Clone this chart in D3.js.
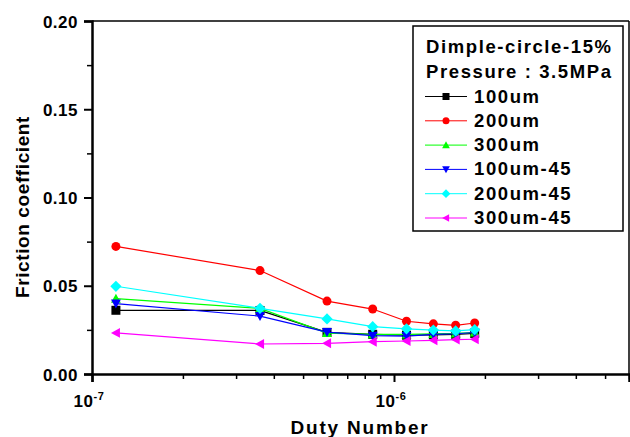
<!DOCTYPE html>
<html>
<head>
<meta charset="utf-8">
<script src="https://cdn.jsdelivr.net/npm/d3@7"></script>
<style>
  body { margin: 0; background: #fff; overflow: hidden; }
  text { font-family: "Liberation Sans", Arial, sans-serif; font-weight: bold; fill: #000; }
</style>
</head>
<body>
<svg width="630" height="437"></svg>
<script>
// duty numbers (x) shared by every series
const duty = [1.2e-7, 3.6e-7, 6.0e-7, 8.5e-7, 1.1e-6, 1.35e-6, 1.6e-6, 1.85e-6];

const f100   = [0.0361, 0.0360, 0.0236, 0.0225, 0.0220, 0.0222, 0.0225, 0.0230];
const f200   = [0.0723, 0.0586, 0.0413, 0.0368, 0.0299, 0.0284, 0.0276, 0.0289];
const f300   = [0.0427, 0.0372, 0.0232, 0.0225, 0.0224, 0.0227, 0.0230, 0.0235];
const f100_45 = [0.0399, 0.0328, 0.0237, 0.0217, 0.0215, 0.0225, 0.0228, 0.0235];
const f200_45 = [0.0497, 0.0372, 0.0312, 0.0268, 0.0256, 0.0249, 0.0244, 0.0251];
const f300_45 = [0.0233, 0.0170, 0.0174, 0.0183, 0.0187, 0.0191, 0.0195, 0.0197];

const seriesNames = ["100um", "200um", "300um", "100um-45", "200um-45", "300um-45"];
const seriesValues = [f100, f200, f300, f100_45, f200_45, f300_45];
const seriesColors = ["#000000", "#ff0000", "#00ff00", "#0000ff", "#00ffff", "#ff00ff"];
const seriesShapes = ["square", "circle", "up", "down", "diamond", "left"];

const yTicks = [0, 0.05, 0.10, 0.15, 0.20];
const legendTitle = ["Dimple-circle-15%", "Pressure : 3.5MPa"];

const svg = d3.select("svg");
const pLeft = 92, pRight = 629, pTop = 21, pBottom = 374;

const x = d3.scaleLog().domain([1e-7, 6e-6]).range([pLeft, pRight]);
const y = d3.scaleLinear().domain([0, 0.2]).range([pBottom, pTop]);

// marker outline around 0,0
function marker(type, r) {
  switch (type) {
    case "square": return `M${-r},${-r}H${r}V${r}H${-r}Z`;
    case "circle": return `M${r},0A${r},${r} 0 1,1 ${-r},0A${r},${r} 0 1,1 ${r},0Z`;
    case "up": return `M0,${-r * 1.1}L${r * 1.1},${r * 0.9}L${-r * 1.1},${r * 0.9}Z`;
    case "down": return `M0,${r * 1.1}L${r * 1.1},${-r * 0.9}L${-r * 1.1},${-r * 0.9}Z`;
    case "left": return `M${-r * 1.1},0L${r * 0.9},${-r * 1.1}L${r * 0.9},${r * 1.1}Z`;
    case "diamond": return `M0,${-r * 1.25}L${r * 1.25},0L0,${r * 1.25}L${-r * 1.25},0Z`;
  }
}

// frame (top and right)
svg.append("line").attr("x1", pLeft).attr("x2", pRight).attr("y1", pTop).attr("y2", pTop)
  .attr("stroke", "#000").attr("stroke-width", 1.5);
svg.append("line").attr("x1", pRight).attr("x2", pRight).attr("y1", pTop).attr("y2", pBottom)
  .attr("stroke", "#000").attr("stroke-width", 1.5);

// x axis: major and minor ticks
const xMajor = [1e-7, 1e-6];
const xMinor = [];
[1e-7, 1e-6].forEach(d => { for (let k = 2; k <= 9; k++) if (d * k <= 6e-6) xMinor.push(d * k); });

const gx = svg.append("g").attr("transform", `translate(0,${pBottom})`);
gx.call(d3.axisBottom(x).tickValues(xMinor).tickSize(5).tickFormat(""));
gx.selectAll(".tick line").attr("stroke-width", 1.5);
gx.select(".domain").remove();
const gxMaj = svg.append("g").attr("transform", `translate(0,${pBottom})`)
  .call(d3.axisBottom(x).tickValues(xMajor).tickSize(8).tickFormat(""));
gxMaj.selectAll(".tick line").attr("stroke-width", 2);
gxMaj.select(".domain").attr("stroke-width", 2.5);

const xLab = svg.append("g").selectAll("text").data(xMajor).join("text")
  .attr("x", d => x(d) - 3)
  .attr("y", 407)
  .attr("text-anchor", "middle")
  .style("font-size", "17px").style("letter-spacing", "0.6px");
xLab.append("tspan").text("10");
xLab.append("tspan").attr("dy", -7).style("font-size", "11px").text(d => Math.round(Math.log10(d)));

// y axis
const yMinor = d3.range(0.025, 0.2, 0.05);
const gy = svg.append("g").attr("transform", `translate(${pLeft},0)`);
gy.call(d3.axisLeft(y).tickValues(yMinor).tickSize(5).tickFormat(""));
gy.selectAll(".tick line").attr("stroke-width", 1.5);
gy.select(".domain").remove();
const gyMaj = svg.append("g").attr("transform", `translate(${pLeft},0)`)
  .call(d3.axisLeft(y).tickValues(yTicks).tickSize(8).tickFormat(d3.format(".2f")));
gyMaj.selectAll(".tick line").attr("stroke-width", 2);
gyMaj.select(".domain").attr("stroke-width", 2.5);
gyMaj.selectAll(".tick text").attr("x", -14).attr("dy", "0.36em")
  .style("font-size", "17px").style("letter-spacing", "0.5px")
  .style("font-family", "Liberation Sans, Arial, sans-serif")
  .style("font-weight", "bold");

// axis titles
svg.append("text").attr("x", 360).attr("y", 434).attr("text-anchor", "middle")
  .style("font-size", "19px").style("letter-spacing", "1.8px").text("Duty Number");
svg.append("text").attr("transform", "translate(29,207) rotate(-90)").attr("text-anchor", "middle")
  .style("font-size", "19px").style("letter-spacing", "0.6px").text("Friction coefficient");

// series
const line = d3.line().x((d, i) => x(duty[i])).y(d => y(d));
seriesValues.forEach((vals, s) => {
  const g = svg.append("g");
  g.append("path").datum(vals).attr("d", line)
    .attr("fill", "none").attr("stroke", seriesColors[s]).attr("stroke-width", 1.2);
  g.selectAll("path.m").data(vals).join("path").attr("class", "m")
    .attr("transform", (d, i) => `translate(${x(duty[i])},${y(d)})`)
    .attr("d", marker(seriesShapes[s], 4.5))
    .attr("fill", seriesColors[s]);
});

// legend
const lg = svg.append("g");
lg.append("rect").attr("x", 413).attr("y", 26).attr("width", 210).attr("height", 205)
  .attr("fill", "#fff").attr("stroke", "#000").attr("stroke-width", 1.5);
lg.selectAll("text.t").data(legendTitle).join("text").attr("class", "t")
  .attr("x", 426).attr("y", (d, i) => 53 + i * 25)
  .style("font-size", "18.5px").style("letter-spacing", "1.6px").text(d => d);
const items = lg.selectAll("g.item").data(seriesNames).join("g").attr("class", "item")
  .attr("transform", (d, i) => `translate(0,${96.5 + i * 24.3})`);
items.append("line").attr("x1", 425).attr("x2", 467).attr("y1", 0).attr("y2", 0)
  .attr("stroke", (d, i) => seriesColors[i]).attr("stroke-width", 1);
items.append("path").attr("transform", "translate(446,0)")
  .attr("d", (d, i) => marker(seriesShapes[i], 3.5))
  .attr("fill", (d, i) => seriesColors[i]);
items.append("text").attr("x", 474).attr("y", 6)
  .style("font-size", "18.5px").style("letter-spacing", "1.6px").text(d => d);
</script>
</body>
</html>
